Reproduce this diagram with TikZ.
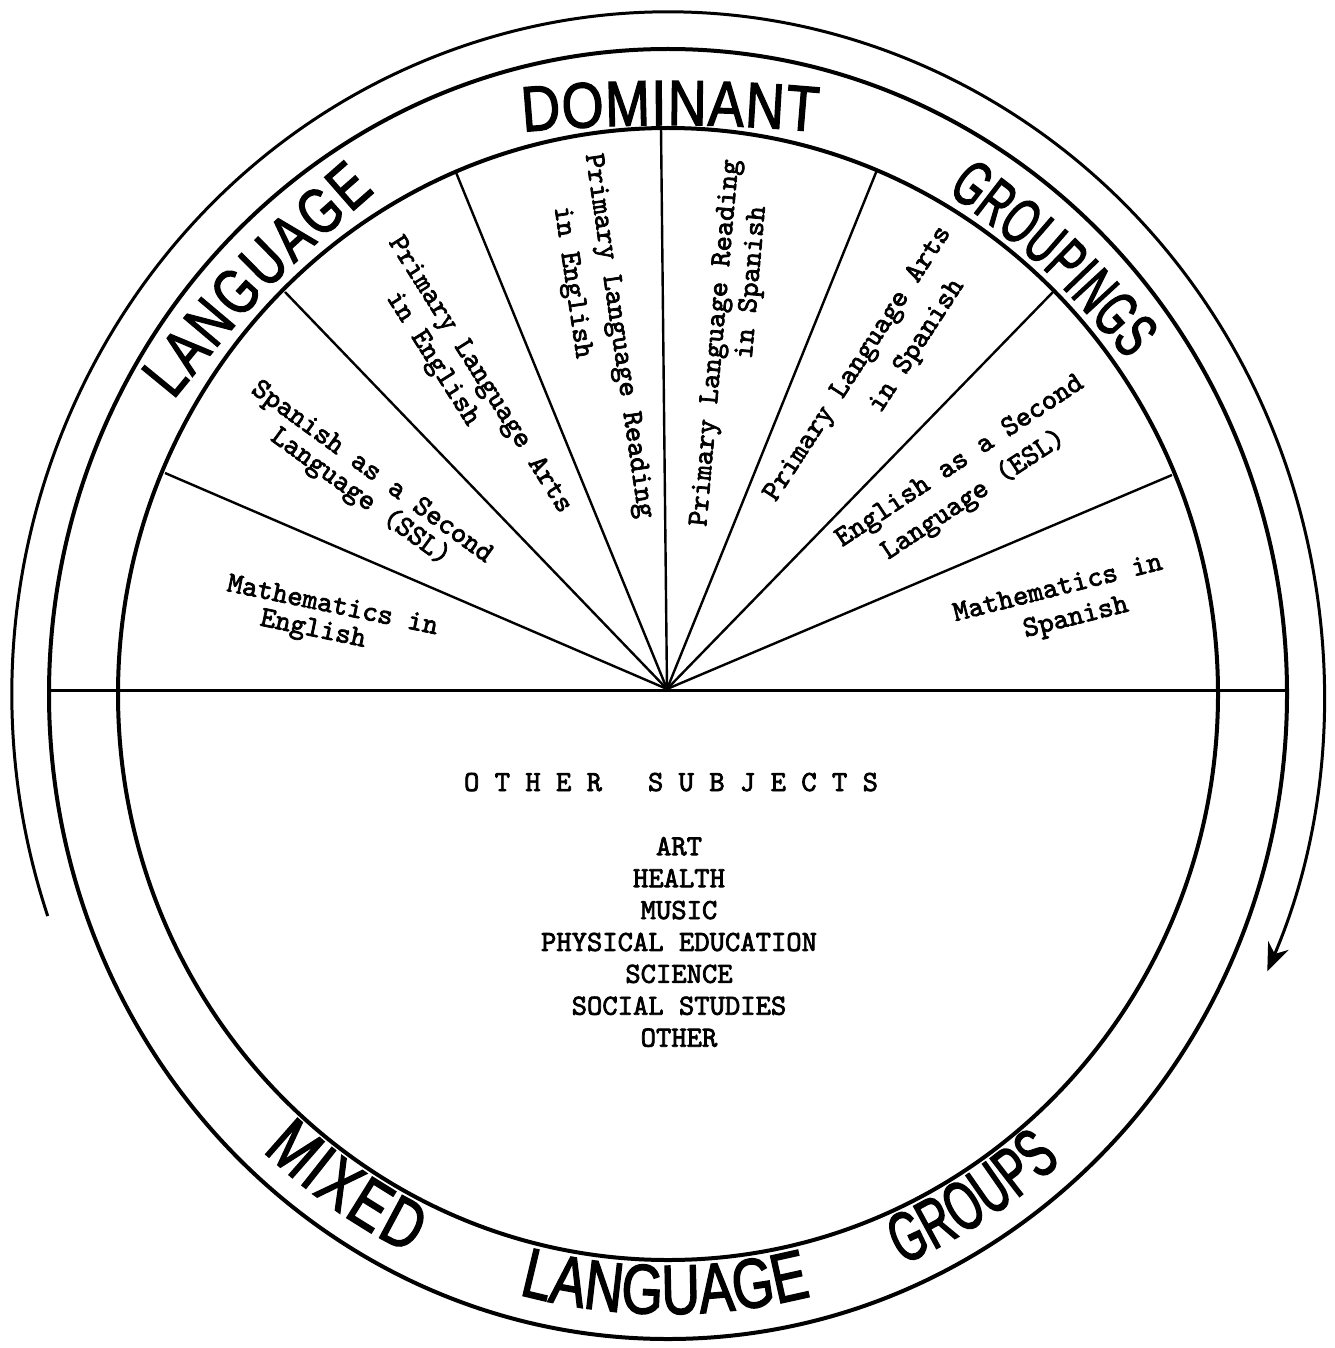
\documentclass[tikz,border=0pt]{standalone}
\usepackage{fontspec}
\usetikzlibrary{decorations.text,arrows.meta}
\newfontfamily\hfA[FakeStretch=0.84,FakeBold=2]{Liberation Sans}
\newfontfamily\hfB[FakeStretch=0.76,FakeBold=2]{Liberation Sans}
\newfontfamily\hfC[FakeStretch=0.61,FakeBold=2]{Liberation Sans}
\newfontfamily\typefam[Extension=.otf,FakeBold=2.5]{lmmono10-regular}
\newcommand\wTopA{\hfA\fontsize{32}{32}\selectfont}
\newcommand\wTopB{\hfB\fontsize{32}{32}\selectfont}
\newcommand\wTopC{\hfC\fontsize{32}{32}\selectfont}
\newcommand\wBotB{\hfB\fontsize{35}{35}\selectfont}
\newcommand\wBotC{\hfC\fontsize{35}{35}\selectfont}
\begin{document}
\begin{tikzpicture}[x=0.5pt,y=0.5pt,
  ring/.style={line width=2pt},
  spokeline/.style={line width=1.2pt},
  midline/.style={line width=1.5pt},
  arrowarc/.style={line width=1.5pt,-{Stealth[length=14pt,width=11pt,inset=4.5pt]}},
  typed/.style={font=\typefam\fontsize{14.6}{16}\selectfont,inner sep=0pt,text height=6.3pt,text depth=0pt},
  listtext/.style={font=\typefam\fontsize{14.6}{15.95}\selectfont,inner sep=0pt,align=center},
  bigword/.style={decorate,decoration={text along path,text align={fit to path}}}]
\path[use as bounding box,fill=white] (0,0) rectangle (1334,-1348);
% geometry
\coordinate (O) at (668,-694);
\coordinate (hub) at (667,-689);
\coordinate (hl) at (49,-690);
\coordinate (hr) at (1287,-690);
\coordinate (e1) at (165,-473);
\coordinate (e2) at (285,-292);
\coordinate (e3) at (455,-170);
\coordinate (e4) at (661,-128);
\coordinate (e5) at (877,-170);
\coordinate (e6) at (1053,-292);
\coordinate (e7) at (1172,-475);
\coordinate (dc) at (670,-1725);
% rings
\draw[ring] (O) ellipse[x radius=550,y radius=566];
\draw[ring] (O) ellipse[x radius=619,y radius=645];
\draw[midline] (hl) -- (hr);
\foreach \e in {e1,e2,e3,e4,e5,e6,e7} \draw[spokeline] (hub) -- (\e);
% outer arrow
\draw[arrowarc] ([shift={(199:656 and 682)}]O) arc[start angle=199,end angle=-24,x radius=656,y radius=682];
% big hand-lettered words
\path[bigword,decoration={text={|\wTopB|LANGUAGE}}] (173.3,-400) .. controls (265.6,-287.5) .. (375,-191.7);
\path[bigword,decoration={text={|\wTopA|DOMINANT}}] ([shift={(95.27:1600)}]dc) arc[start angle=95.27,end angle=84.73,radius=1600];
\path[bigword,decoration={text={|\wTopC|GROUPINGS}}] (947,-192) .. controls (1045.4,-267) .. (1128,-360);
\path[bigword,decoration={text={|\wBotB|MIXED}}] ([shift={(227.5:600 and 620)}]O) arc[start angle=227.5,end angle=244.5,x radius=600,y radius=620];
\path[bigword,decoration={text={|\wBotB|LANGUAGE}}] ([shift={(255.6:600 and 620)}]O) arc[start angle=255.6,end angle=283.3,x radius=600,y radius=620];
\path[bigword,decoration={text={|\wBotC|GROUPS}}] ([shift={(293:600 and 620)}]O) arc[start angle=293,end angle=311,x radius=600,y radius=620];
% sector labels
\node[typed,rotate=-11.7] (meA) at (332.5,-606.5) {Mathematics in};
\node[typed,rotate=-11.7] (meB) at (313,-630) {English};
\node[typed,rotate=-36] (sslA) at (371.7,-472.5) {Spanish as a Second};
\node[typed,rotate=-36] (sslB) at (360,-497.5) {Language (SSL)};
\node[typed,rotate=-57.7] (plaeA) at (479.7,-375) {Primary Language Arts};
\node[typed,rotate=-57.7] (plaeB) at (432.5,-359) {in English};
\node[typed,rotate=-81.7] (plreA) at (618.5,-336) {Primary Language Reading};
\node[typed,rotate=-81.7] (plreB) at (572,-282.5) {in English};
\node[typed,rotate=85] (plrsA) at (716,-343) {Primary Language Reading};
\node[typed,rotate=85] (plrsB) at (752,-282.5) {in Spanish};
\node[typed,rotate=57] (plasA) at (858,-364) {Primary Language Arts};
\node[typed,rotate=57] (plasB) at (917,-346) {in Spanish};
\node[typed,rotate=33.5] (eslA) at (960,-461.6) {English as a Second};
\node[typed,rotate=33.5] (eslB) at (974,-495.5) {Language (ESL)};
\node[typed,rotate=14.1] (msA) at (1058,-589) {Mathematics in};
\node[typed,rotate=14.1] (msB) at (1076,-618) {Spanish};
% other subjects
\node[typed,anchor=base] (oth) at (671,-791) {O T H E R~~~S U B J E C T S};
\node[listtext] (subj) at (679,-942) {ART\\HEALTH\\MUSIC\\PHYSICAL EDUCATION\\SCIENCE\\SOCIAL STUDIES\\OTHER};
\end{tikzpicture}
\end{document}
